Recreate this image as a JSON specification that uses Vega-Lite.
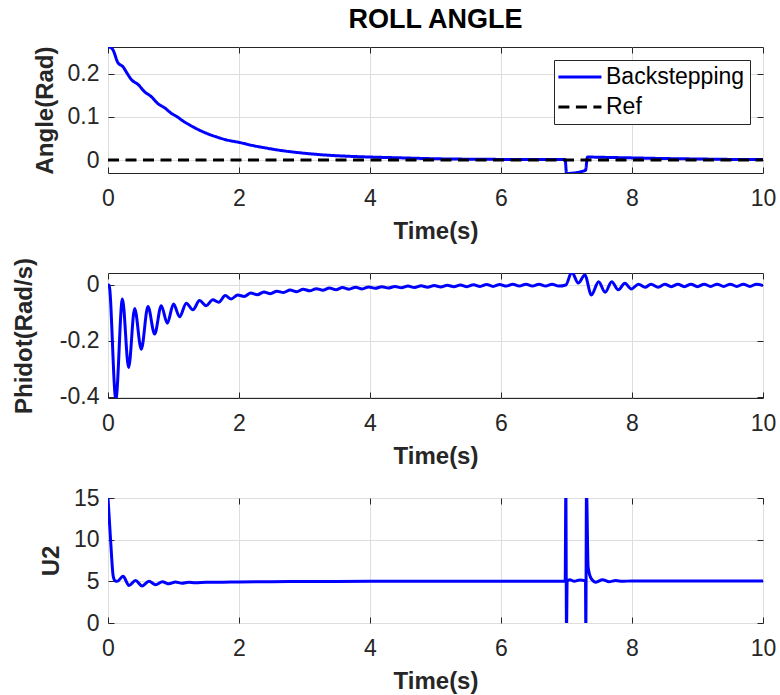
{
  "$schema": "https://vega.github.io/schema/vega-lite/v6.json",
  "padding": {"left": 11, "top": 5, "right": 3, "bottom": 0},
  "background": "white",
  "config": {
    "font": "Liberation Sans",
    "view": {"stroke": "#262626", "strokeWidth": 1},
    "axis": {
      "domain": false,
      "grid": true,
      "gridColor": "#dedede",
      "gridWidth": 1,
      "ticks": true,
      "tickColor": "#262626",
      "tickSize": -6,
      "tickWidth": 1,
      "labelFlush": false,
      "labelOverlap": false,
      "labelFont": "Liberation Sans",
      "labelFontSize": 23,
      "labelColor": "#262626",
      "titleFont": "Liberation Sans",
      "titleFontSize": 24,
      "titleFontWeight": "bold",
      "titleColor": "#262626"
    },
    "axisX": {"labelPadding": 20, "titlePadding": 9},
    "axisY": {"labelPadding": 15, "titlePadding": 10},
    "legend": {
      "title": null,
      "orient": "top-right",
      "offset": 13,
      "strokeColor": "#262626",
      "fillColor": "white",
      "padding": 5,
      "symbolType": "M-1.2,0H2.9",
      "symbolSize": 441,
      "symbolStrokeWidth": 3,
      "labelFont": "Liberation Sans",
      "labelFontSize": 23,
      "labelColor": "#000000",
      "labelOffset": 23,
      "rowPadding": 6
    }
  },
  "datasets": {
    "roll": [
      {"t": 0, "v": 0.262, "series": "Backstepping"},
      {"t": 0.04, "v": 0.261, "series": "Backstepping"},
      {"t": 0.08, "v": 0.254, "series": "Backstepping"},
      {"t": 0.15, "v": 0.226, "series": "Backstepping"},
      {"t": 0.23, "v": 0.216, "series": "Backstepping"},
      {"t": 0.28, "v": 0.204, "series": "Backstepping"},
      {"t": 0.36, "v": 0.186, "series": "Backstepping"},
      {"t": 0.46, "v": 0.175, "series": "Backstepping"},
      {"t": 0.56, "v": 0.158, "series": "Backstepping"},
      {"t": 0.66, "v": 0.147, "series": "Backstepping"},
      {"t": 0.76, "v": 0.131, "series": "Backstepping"},
      {"t": 0.865, "v": 0.121, "series": "Backstepping"},
      {"t": 0.97, "v": 0.108, "series": "Backstepping"},
      {"t": 1.06, "v": 0.1, "series": "Backstepping"},
      {"t": 1.14, "v": 0.091, "series": "Backstepping"},
      {"t": 1.25, "v": 0.081, "series": "Backstepping"},
      {"t": 1.4, "v": 0.069, "series": "Backstepping"},
      {"t": 1.52, "v": 0.061, "series": "Backstepping"},
      {"t": 1.65, "v": 0.054, "series": "Backstepping"},
      {"t": 1.8, "v": 0.047, "series": "Backstepping"},
      {"t": 2.0, "v": 0.041, "series": "Backstepping"},
      {"t": 2.2, "v": 0.034, "series": "Backstepping"},
      {"t": 2.41, "v": 0.028, "series": "Backstepping"},
      {"t": 2.65, "v": 0.022, "series": "Backstepping"},
      {"t": 2.92, "v": 0.017, "series": "Backstepping"},
      {"t": 3.2, "v": 0.013, "series": "Backstepping"},
      {"t": 3.5, "v": 0.01, "series": "Backstepping"},
      {"t": 3.8, "v": 0.008, "series": "Backstepping"},
      {"t": 4.0, "v": 0.007, "series": "Backstepping"},
      {"t": 4.5, "v": 0.005, "series": "Backstepping"},
      {"t": 5.0, "v": 0.003, "series": "Backstepping"},
      {"t": 5.5, "v": 0.002, "series": "Backstepping"},
      {"t": 6.0, "v": 0.0015, "series": "Backstepping"},
      {"t": 6.5, "v": 0.001, "series": "Backstepping"},
      {"t": 6.98, "v": 0.001, "series": "Backstepping"},
      {"t": 7.0, "v": -0.031, "series": "Backstepping"},
      {"t": 7.29, "v": -0.024, "series": "Backstepping"},
      {"t": 7.32, "v": 0.007, "series": "Backstepping"},
      {"t": 7.5, "v": 0.0065, "series": "Backstepping"},
      {"t": 8.0, "v": 0.005, "series": "Backstepping"},
      {"t": 8.5, "v": 0.0035, "series": "Backstepping"},
      {"t": 9.0, "v": 0.0025, "series": "Backstepping"},
      {"t": 9.5, "v": 0.0015, "series": "Backstepping"},
      {"t": 10.0, "v": 0.001, "series": "Backstepping"},
      {"t": 0, "v": 0, "series": "Ref"},
      {"t": 10, "v": 0, "series": "Ref"}
    ],
    "phidot": [
      {"t": 0, "v": 0},
      {"t": 0.015, "v": 0},
      {"t": 0.12, "v": -0.41},
      {"t": 0.22, "v": -0.05},
      {"t": 0.315, "v": -0.296},
      {"t": 0.407, "v": -0.084},
      {"t": 0.508, "v": -0.23},
      {"t": 0.61, "v": -0.077},
      {"t": 0.712, "v": -0.176},
      {"t": 0.813, "v": -0.074},
      {"t": 0.905, "v": -0.137},
      {"t": 1.0, "v": -0.068},
      {"t": 1.093, "v": -0.114},
      {"t": 1.195, "v": -0.065},
      {"t": 1.296, "v": -0.089},
      {"t": 1.398, "v": -0.056},
      {"t": 1.5, "v": -0.074},
      {"t": 1.6, "v": -0.053},
      {"t": 1.69, "v": -0.062},
      {"t": 1.79, "v": -0.038},
      {"t": 1.88, "v": -0.05},
      {"t": 1.98, "v": -0.036},
      {"t": 2.08, "v": -0.041},
      {"t": 2.18, "v": -0.029},
      {"t": 2.28, "v": -0.035},
      {"t": 2.38, "v": -0.025},
      {"t": 2.48, "v": -0.031},
      {"t": 2.58, "v": -0.022},
      {"t": 2.68, "v": -0.027},
      {"t": 2.78, "v": -0.018},
      {"t": 2.88, "v": -0.024},
      {"t": 2.98, "v": -0.015},
      {"t": 3.08, "v": -0.021},
      {"t": 3.18, "v": -0.013},
      {"t": 3.28, "v": -0.019},
      {"t": 3.38, "v": -0.011},
      {"t": 3.48, "v": -0.017},
      {"t": 3.58, "v": -0.009},
      {"t": 3.68, "v": -0.015},
      {"t": 3.78, "v": -0.008},
      {"t": 3.88, "v": -0.014},
      {"t": 3.98, "v": -0.007},
      {"t": 4.08, "v": -0.012},
      {"t": 4.18, "v": -0.006},
      {"t": 4.28, "v": -0.011},
      {"t": 4.38, "v": -0.005},
      {"t": 4.48, "v": -0.01},
      {"t": 4.58, "v": -0.004},
      {"t": 4.68, "v": -0.009},
      {"t": 4.78, "v": -0.003},
      {"t": 4.88, "v": -0.008},
      {"t": 4.98, "v": -0.002},
      {"t": 5.08, "v": -0.007},
      {"t": 5.18, "v": -0.001},
      {"t": 5.28, "v": -0.006},
      {"t": 5.38, "v": 0.0},
      {"t": 5.48, "v": -0.006},
      {"t": 5.58, "v": 0.001},
      {"t": 5.68, "v": -0.005},
      {"t": 5.78, "v": 0.002},
      {"t": 5.88, "v": -0.005},
      {"t": 5.98, "v": 0.002},
      {"t": 6.08, "v": -0.004},
      {"t": 6.18, "v": 0.003},
      {"t": 6.28, "v": -0.004},
      {"t": 6.38, "v": 0.003},
      {"t": 6.48, "v": -0.004},
      {"t": 6.58, "v": 0.003},
      {"t": 6.68, "v": -0.004},
      {"t": 6.78, "v": 0.003},
      {"t": 6.88, "v": -0.004},
      {"t": 6.99, "v": 0.0},
      {"t": 7.08, "v": 0.046},
      {"t": 7.18, "v": 0.007},
      {"t": 7.28, "v": 0.036},
      {"t": 7.38, "v": -0.036},
      {"t": 7.49, "v": 0.012},
      {"t": 7.59, "v": -0.026},
      {"t": 7.69, "v": 0.012},
      {"t": 7.79, "v": -0.017},
      {"t": 7.89, "v": 0.006},
      {"t": 7.99, "v": -0.014},
      {"t": 8.1, "v": 0.003},
      {"t": 8.2, "v": -0.008},
      {"t": 8.29, "v": 0.003},
      {"t": 8.4, "v": -0.008},
      {"t": 8.5, "v": 0.003},
      {"t": 8.6, "v": -0.006},
      {"t": 8.7, "v": 0.003},
      {"t": 8.8, "v": -0.006},
      {"t": 8.9, "v": 0.003},
      {"t": 9.0, "v": -0.006},
      {"t": 9.1, "v": 0.003},
      {"t": 9.2, "v": -0.005},
      {"t": 9.3, "v": 0.003},
      {"t": 9.4, "v": -0.005},
      {"t": 9.5, "v": 0.003},
      {"t": 9.6, "v": -0.005},
      {"t": 9.7, "v": 0.003},
      {"t": 9.8, "v": -0.005},
      {"t": 9.9, "v": 0.003},
      {"t": 10.0, "v": -0.002}
    ],
    "u2": [
      {"t": 0, "v": 15},
      {"t": 0.04, "v": 9.9},
      {"t": 0.08, "v": 5.6},
      {"t": 0.11, "v": 5.05},
      {"t": 0.14, "v": 5.0},
      {"t": 0.23, "v": 5.6},
      {"t": 0.32, "v": 4.5},
      {"t": 0.42, "v": 5.1},
      {"t": 0.52, "v": 4.45},
      {"t": 0.625, "v": 5.0},
      {"t": 0.727, "v": 4.6},
      {"t": 0.83, "v": 4.95},
      {"t": 0.93, "v": 4.7},
      {"t": 1.03, "v": 4.92},
      {"t": 1.13, "v": 4.78},
      {"t": 1.23, "v": 4.9},
      {"t": 1.33, "v": 4.82},
      {"t": 1.5, "v": 4.88},
      {"t": 1.75, "v": 4.9},
      {"t": 2.0, "v": 4.93},
      {"t": 2.5, "v": 4.96},
      {"t": 3.0, "v": 4.98},
      {"t": 4.0, "v": 5.0},
      {"t": 5.0, "v": 5.02},
      {"t": 6.0, "v": 5.02},
      {"t": 6.98, "v": 5.03},
      {"t": 6.99, "v": 16},
      {"t": 7.0, "v": -1},
      {"t": 7.01, "v": 5.0},
      {"t": 7.05, "v": 5.2},
      {"t": 7.12, "v": 5.0},
      {"t": 7.2, "v": 5.15},
      {"t": 7.29, "v": 5.05},
      {"t": 7.295, "v": -1},
      {"t": 7.305, "v": 16},
      {"t": 7.33, "v": 6.7},
      {"t": 7.38, "v": 5.3},
      {"t": 7.45, "v": 4.9},
      {"t": 7.55, "v": 5.2},
      {"t": 7.65, "v": 4.95},
      {"t": 7.75, "v": 5.1},
      {"t": 7.85, "v": 5.0},
      {"t": 8.0, "v": 5.05},
      {"t": 9.0, "v": 5.03},
      {"t": 10.0, "v": 5.03}
    ]
  },
  "bounds": "flush",
  "spacing": 100,
  "resolve": {"scale": {"color": "independent", "strokeDash": "independent"}},
  "vconcat": [
    {
      "width": 655,
      "height": 126,
      "title": {"text": "ROLL ANGLE", "fontSize": 27, "fontWeight": "bold", "color": "#000000", "anchor": "middle", "frame": "group", "offset": 12},
      "data": {"name": "roll"},
      "layer": [
        {
          "transform": [{"filter": "datum.series === 'Backstepping'"}],
          "mark": {"type": "line", "strokeWidth": 3, "clip": true, "interpolate": "monotone"},
          "encoding": {
            "x": {"field": "t", "type": "quantitative", "scale": {"domain": [0, 10], "nice": false, "zero": false}, "axis": {"values": [0, 2, 4, 6, 8, 10], "title": "Time(s)", "labelExpr": "'' + datum.value"}},
            "y": {"field": "v", "type": "quantitative", "scale": {"domain": [-0.03, 0.262], "nice": false, "zero": false}, "axis": {"values": [0, 0.1, 0.2], "title": "Angle(Rad)", "labelExpr": "'' + datum.value"}},
            "color": {"field": "series", "type": "nominal", "scale": {"domain": ["Backstepping", "Ref"], "range": ["#0000ff", "#000000"]}, "legend": {"title": null}},
            "strokeDash": {"field": "series", "type": "nominal", "scale": {"domain": ["Backstepping", "Ref"], "range": [[1, 0], [11, 6.5]]}, "legend": {"title": null}}
          }
        },
        {
          "transform": [{"filter": "datum.series === 'Ref'"}],
          "mark": {"type": "line", "strokeWidth": 3, "clip": true},
          "encoding": {
            "x": {"field": "t", "type": "quantitative", "axis": null},
            "y": {"field": "v", "type": "quantitative", "axis": null},
            "color": {"field": "series", "type": "nominal", "legend": {"title": null}},
            "strokeDash": {"field": "series", "type": "nominal", "legend": {"title": null}}
          }
        },
        {
          "mark": {"type": "line", "strokeOpacity": 0, "clip": true},
          "encoding": {
            "x": {"field": "t", "type": "quantitative", "axis": {"orient": "top", "values": [0, 2, 4, 6, 8, 10], "labels": false, "grid": false, "title": null}},
            "y": {"field": "v", "type": "quantitative", "axis": {"orient": "right", "values": [0, 0.1, 0.2], "labels": false, "grid": false, "title": null}}
          }
        }
      ],
      "resolve": {"axis": {"x": "independent", "y": "independent"}}
    },
    {
      "width": 655,
      "height": 125,
      "data": {"name": "phidot"},
      "layer": [
        {
          "mark": {"type": "line", "strokeWidth": 3, "color": "#0000ff", "clip": true, "interpolate": "monotone"},
          "encoding": {
            "x": {"field": "t", "type": "quantitative", "scale": {"domain": [0, 10], "nice": false, "zero": false}, "axis": {"values": [0, 2, 4, 6, 8, 10], "title": "Time(s)", "labelExpr": "'' + datum.value"}},
            "y": {"field": "v", "type": "quantitative", "scale": {"domain": [-0.405, 0.043], "nice": false, "zero": false}, "axis": {"values": [-0.4, -0.2, 0], "title": "Phidot(Rad/s)", "titlePadding": 23, "labelExpr": "'' + datum.value"}}
          }
        },
        {
          "mark": {"type": "line", "strokeOpacity": 0, "clip": true},
          "encoding": {
            "x": {"field": "t", "type": "quantitative", "axis": {"orient": "top", "values": [0, 2, 4, 6, 8, 10], "labels": false, "grid": false, "title": null}},
            "y": {"field": "v", "type": "quantitative", "axis": {"orient": "right", "values": [-0.4, -0.2, 0], "labels": false, "grid": false, "title": null}}
          }
        }
      ],
      "resolve": {"axis": {"x": "independent", "y": "independent"}}
    },
    {
      "width": 655,
      "height": 125,
      "data": {"name": "u2"},
      "layer": [
        {
          "mark": {"type": "line", "strokeWidth": 3, "color": "#0000ff", "clip": true, "interpolate": "monotone"},
          "encoding": {
            "x": {"field": "t", "type": "quantitative", "scale": {"domain": [0, 10], "nice": false, "zero": false}, "axis": {"values": [0, 2, 4, 6, 8, 10], "title": "Time(s)", "labelExpr": "'' + datum.value"}},
            "y": {"field": "v", "type": "quantitative", "scale": {"domain": [0, 15], "nice": false, "zero": false}, "axis": {"values": [0, 5, 10, 15], "title": "U2", "labelExpr": "'' + datum.value"}}
          }
        },
        {
          "mark": {"type": "line", "strokeOpacity": 0, "clip": true},
          "encoding": {
            "x": {"field": "t", "type": "quantitative", "axis": {"orient": "top", "values": [0, 2, 4, 6, 8, 10], "labels": false, "grid": false, "title": null}},
            "y": {"field": "v", "type": "quantitative", "axis": {"orient": "right", "values": [0, 5, 10, 15], "labels": false, "grid": false, "title": null}}
          }
        }
      ],
      "resolve": {"axis": {"x": "independent", "y": "independent"}}
    }
  ]
}
